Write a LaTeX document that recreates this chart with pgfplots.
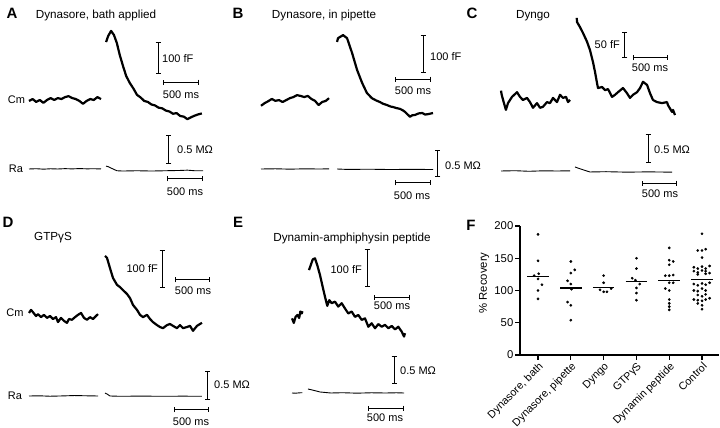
\documentclass[border=0pt]{standalone}
\usepackage{pgfplots}
\pgfplotsset{compat=1.18}
\usetikzlibrary{arrows.meta}
\usepackage{fontspec}
\setmainfont{Liberation Sans}

\newcommand\ttl{\fontsize{11.7}{14}\selectfont}
\newcommand\lbl{\fontsize{11}{13}\selectfont}
\newcommand\pnl{\fontsize{15}{17}\selectfont\bfseries}
\newcommand\tck{\fontsize{11.3}{13}\selectfont}
\newcommand\cat{\fontsize{10.8}{12}\selectfont}

% one axis per trace: time in ms, Cm in fF, Ra in MOhm
\pgfplotsset{
  trace/.style={axis lines=none, clip=false, anchor=origin, enlargelimits=false,
    xmin=-100, xmax=2700},
  cmax/.style={trace, ymin=-100, ymax=250},
  raax/.style={trace, ymin=-0.5, ymax=0.8},
  cm/.style={no marks, black, line width=2.2pt, line join=round},
  ra/.style={no marks, black, line width=0.9pt, line join=round},
}
\tikzset{sbar/.style={line width=1pt, {Bar[width=5pt]}-{Bar[width=5pt]}},
  every node/.append style={inner sep=0pt}}

\begin{document}
\begin{tikzpicture}
\useasboundingbox (0,0) rectangle (720pt,428pt);

%% ---------------- A ----------------
\begin{axis}[cmax, at={(29pt,328pt)}, x=0.072pt, y=0.32pt]
\addplot[cm] coordinates {(0,-3) (50,3) (100,-6) (150,0) (200,-9) (250,0) (300,6) (350,0) (400,6) (450,3) (500,9) (550,12) (600,6) (650,3) (700,-3) (750,-12) (800,-3) (850,3) (900,0) (950,9) (1000,3)};
\addplot[cm] coordinates {(1070,181) (1100,200) (1140,216) (1180,203) (1220,178) (1260,141) (1310,103) (1350,75) (1400,53) (1450,36) (1500,16) (1550,8) (1600,-3) (1650,-6) (1700,-14) (1750,-17) (1800,-24) (1850,-26) (1900,-33) (1950,-36) (2000,-43) (2050,-41) (2100,-50) (2150,-52) (2200,-60) (2250,-54) (2300,-49) (2350,-45) (2400,-42)};
\draw[sbar] (1792,81) -- (1792,181);
\draw[sbar] (1861,56) -- (2361,56);
\end{axis}
\begin{axis}[raax, at={(29pt,259pt)}, x=0.072pt, y=58pt]
\addplot[ra] coordinates {(0,0) (100,0.005) (200,-0.003) (300,0.004) (400,0) (500,0.006) (600,0.002) (700,0.007) (800,0.003) (900,0.004) (1000,0.002)};
\addplot[ra] coordinates {(1070,0.05) (1100,0.04) (1150,0.01) (1220,-0.03) (1300,-0.035) (1500,-0.03) (1700,-0.035) (1900,-0.03) (2100,-0.025) (2200,-0.02) (2300,-0.03) (2420,-0.03)};
\draw[sbar] (1944,0.086) -- (1944,0.586);
\draw[sbar] (1917,-0.172) -- (2417,-0.172);
\end{axis}

%% ---------------- B ----------------
\begin{axis}[cmax, at={(261pt,326pt)}, x=0.072pt, y=0.38pt]
\addplot[cm] coordinates {(0,-10) (50,-3) (100,2) (150,8) (200,3) (250,5) (300,0) (350,5) (400,10) (450,13) (500,18) (550,16) (600,13) (650,16) (700,8) (750,3) (800,-8) (850,0) (900,3) (945,10)};
\addplot[cm] coordinates {(1056,158) (1070,168) (1140,176) (1195,168) (1265,129) (1335,84) (1405,50) (1470,24) (1540,10) (1600,4) (1650,0) (1700,-5) (1750,-8) (1800,-12) (1830,-13) (1880,-16) (1930,-18) (1970,-22) (2000,-26) (2070,-39) (2100,-35) (2140,-34) (2190,-30) (2240,-29) (2280,-33) (2320,-32) (2389,-29)};
\draw[sbar] (2250,76) -- (2250,176);
\draw[sbar] (1861,60) -- (2361,60);
\end{axis}
\begin{axis}[raax, at={(261pt,259pt)}, x=0.072pt, y=54pt]
\addplot[ra] coordinates {(0,0) (200,0.004) (400,-0.003) (600,0.003) (800,0) (945,0.002)};
\addplot[ra] coordinates {(1056,0) (1200,-0.008) (1500,-0.004) (1800,-0.01) (2100,-0.006) (2389,-0.01)};
\draw[sbar] (2458,-0.148) -- (2458,0.352);
\draw[sbar] (1861,-0.259) -- (2361,-0.259);
\end{axis}

%% ---------------- C ----------------
\begin{axis}[cmax, at={(501pt,328pt)}, x=0.070pt, y=0.52pt]
\addplot[cm] coordinates {(0,18) (10,10) (30,0) (70,-19) (100,-6) (157,6) (229,15) (271,6) (314,0) (371,4) (414,-4) (457,-15) (514,-6) (557,-15) (600,-13) (657,-4) (700,-6) (743,4) (800,-4) (843,10) (886,4) (929,6) (957,-4) (986,0)};
\addplot[cm] coordinates {(1082,158) (1086,150) (1129,140) (1171,129) (1229,112) (1271,96) (1314,73) (1343,54) (1371,33) (1386,23) (1443,25) (1486,19) (1529,21) (1586,6) (1629,10) (1671,15) (1743,23) (1800,13) (1843,4) (1886,10) (1943,15) (1986,23) (2029,35) (2086,29) (2129,13) (2171,0) (2229,-4) (2300,-6) (2371,-4) (2386,-10) (2443,-23) (2457,-19) (2486,-29)};
\draw[sbar] (1771,81) -- (1771,131);
\draw[sbar] (1886,81) -- (2386,81);
\end{axis}
\begin{axis}[raax, at={(501pt,257pt)}, x=0.070pt, y=58pt]
\addplot[ra] coordinates {(0,0) (200,0.005) (400,-0.005) (600,0.003) (800,0) (986,0.003)};
\addplot[ra] coordinates {(1057,0.07) (1100,0.05) (1200,0.01) (1271,-0.017) (1500,-0.012) (1800,-0.02) (2100,-0.015) (2443,-0.02)};
\draw[sbar] (2100,0.138) -- (2100,0.638);
\draw[sbar] (2020,-0.207) -- (2520,-0.207);
\end{axis}

%% ---------------- D ----------------
\begin{axis}[cmax, at={(29pt,112pt)}, x=0.070pt, y=0.38pt]
\addplot[cm] coordinates {(0,8) (29,16) (57,10) (100,0) (129,5) (171,-3) (214,3) (257,-5) (300,0) (343,-8) (386,-3) (414,-16) (457,-5) (500,-13) (543,-18) (571,-8) (614,-10) (657,-3) (700,3) (743,8) (786,-5) (829,-10) (871,-3) (914,-8) (957,0) (986,5)};
\addplot[cm] coordinates {(1086,158) (1114,153) (1157,126) (1200,100) (1257,82) (1300,76) (1343,68) (1400,58) (1443,47) (1486,29) (1543,16) (1586,3) (1629,-3) (1686,3) (1729,-8) (1771,-16) (1829,-24) (1871,-29) (1914,-32) (1971,-24) (2014,-21) (2057,-26) (2114,-32) (2157,-24) (2200,-32) (2257,-29) (2300,-26) (2343,-39) (2400,-26) (2443,-21) (2471,-18)};
\draw[sbar] (1900,74) -- (1900,174);
\draw[sbar] (2086,95) -- (2586,95);
\end{axis}
\begin{axis}[raax, at={(29pt,32pt)}, x=0.070pt, y=58pt]
\addplot[ra] coordinates {(0,0) (150,0.003) (300,-0.004) (500,0.002) (650,0.008) (800,0.004) (986,0)};
\addplot[ra] coordinates {(1086,0.05) (1114,0.035) (1157,0.0) (1300,-0.005) (1600,-0.002) (1900,-0.005) (2200,-0.003) (2471,-0.005)};
\draw[sbar] (2557,-0.069) -- (2557,0.431);
\draw[sbar] (2071,-0.241) -- (2571,-0.241);
\end{axis}

%% ---------------- E ----------------
\begin{axis}[cmax, at={(292pt,110pt)}, x=0.072pt, y=0.38pt]
\addplot[cm] coordinates {(0,-1) (25,-13) (50,3) (75,8) (100,0) (115,17) (135,12) (145,18)};
\addplot[cm] coordinates {(236,126) (260,139) (288,154) (319,157) (351,139) (389,113) (426,82) (458,56) (490,32) (518,47) (551,39) (597,43) (643,30) (690,39) (736,25) (782,12) (829,17) (875,3) (921,8) (968,-5) (1014,-1) (1060,-23) (1107,-14) (1153,-27) (1199,-16) (1246,-23) (1292,-18) (1338,-27) (1385,-21) (1431,-30) (1476,-23) (1524,-36) (1556,-49) (1569,-40)};
\draw[sbar] (1042,81) -- (1042,181);
\draw[sbar] (1139,55) -- (1639,55);
\end{axis}
\begin{axis}[raax, at={(292pt,35pt)}, x=0.072pt, y=56pt]
\addplot[ra] coordinates {(0,0) (50,-0.004) (100,0.003) (145,0.005)};
\addplot[ra] coordinates {(222,0.071) (280,0.054) (390,0.018) (540,0.0) (700,0.005) (900,-0.003) (1100,0.004) (1300,0.0) (1450,0.004) (1556,0.0)};
\draw[sbar] (1417,0.161) -- (1417,0.661);
\draw[sbar] (1056,-0.268) -- (1556,-0.268);
\end{axis}

%% ---------------- F ----------------
\begin{axis}[at={(520pt,73pt)}, anchor=south west, x=32.8pt, y=0.645pt,
  xmin=-0.55, xmax=5.52, ymin=0, ymax=200, enlargelimits=false, clip=false,
  axis lines*=left, axis line style={line width=1.6pt},
  tick align=outside, major tick length=5pt,
  every tick/.style={black, line width=1.2pt},
  ytick={0,50,100,150,200}, xtick={0,1,2,3,4,5},
  xticklabels={{Dynasore, bath},{Dynasore, pipette},Dyngo,GTPγS,{Dynamin peptide},Control},
  xticklabel style={rotate=45, anchor=north east, font=\cat, inner sep=1pt},
  yticklabel style={font=\tck, inner sep=1.5pt},
  /pgf/number format/assume math mode=true]
\addplot[only marks, mark=*, mark size=1.15pt, black] coordinates {
 (0,187) (0,146) (0.02,126) (-0.12,123) (0,118) (0.12,109) (0,100) (0,87)
 (1,145) (1.12,132) (1,127) (0.9,115) (1,110) (1.02,102) (0.9,82) (1,77) (1,54)
 (1.89,101) (2,98) (2.1,98) (2.23,103) (2,112) (2,123)
 (3,150) (3,134) (2.87,119) (2.97,116) (3.1,110) (3,104) (3,96) (3,85)
 (4,166) (4,147) (4.12,145) (4,140) (3.88,123) (4,123) (4.12,124) (4,112) (4.12,112) (3.88,103) (4,100) (4,86) (4,80) (4,75) (4,70)
 (5,188) (4.87,162) (5,162) (5.11,164) (5,151) (4.75,136) (4.87,134) (5,137) (5.11,134) (5.23,138) (4.75,130) (4.87,128) (5,131) (5.11,130) (4.87,125) (5.11,126) (5.23,127) (4.75,110) (4.87,108) (5,111) (5.11,109) (5.23,112) (4.75,100) (4.87,99) (5,103) (5.11,100) (4.87,93) (5,91) (5.11,94) (4.75,86) (4.87,85) (5,84) (5.11,86) (5.23,88) (4.87,80) (5,77) (5,71)};
% means
\addplot[black, line width=1.3pt] coordinates {(-0.33,122) (0.33,122)};
\addplot[black, line width=1.3pt] coordinates {(0.67,104) (1.33,104)};
\addplot[black, line width=1.3pt] coordinates {(1.67,105) (2.33,105)};
\addplot[black, line width=1.3pt] coordinates {(2.67,114) (3.33,114)};
\addplot[black, line width=1.3pt] coordinates {(3.67,116) (4.33,116)};
\addplot[black, line width=1.3pt] coordinates {(4.67,117) (5.33,117)};
\end{axis}

%% ---------------- text ----------------
\node[font=\pnl] at (12pt,415pt) {A};
\node[font=\pnl] at (238pt,415pt) {B};
\node[font=\pnl] at (472pt,415pt) {C};
\node[font=\pnl] at (8pt,206pt) {D};
\node[font=\pnl] at (238pt,206pt) {E};
\node[font=\pnl] at (471pt,203pt) {F};

\node[font=\ttl] at (96pt,413pt) {Dynasore, bath applied};
\node[font=\ttl] at (324pt,413pt) {Dynasore, in pipette};
\node[font=\ttl] at (533pt,412pt) {Dyngo};
\node[font=\ttl] at (53pt,190pt) {GTPγS};
\node[font=\ttl] at (352pt,190pt) {Dynamin-amphiphysin peptide};

\node[font=\lbl] at (16.5pt,328pt) {Cm};
\node[font=\lbl] at (16pt,259pt) {Ra};
\node[font=\lbl] at (15pt,115pt) {Cm};
\node[font=\lbl] at (15pt,32pt) {Ra};

% A
\node[font=\lbl, anchor=west] at (162pt,369pt) {100 fF};
\node[font=\lbl] at (181pt,333pt) {500 ms};
\node[font=\lbl, anchor=west] at (177pt,278pt) {0.5 MΩ};
\node[font=\lbl] at (185pt,236pt) {500 ms};
% B
\node[font=\lbl, anchor=west] at (430pt,371pt) {100 fF};
\node[font=\lbl] at (413pt,337pt) {500 ms};
\node[font=\lbl, anchor=west] at (445pt,262pt) {0.5 MΩ};
\node[font=\lbl] at (412pt,232pt) {500 ms};
% C
\node[font=\lbl, anchor=east] at (620pt,383pt) {50 fF};
\node[font=\lbl] at (650pt,360pt) {500 ms};
\node[font=\lbl, anchor=west] at (654pt,278pt) {0.5 MΩ};
\node[font=\lbl] at (660pt,234pt) {500 ms};
% D
\node[font=\lbl, anchor=east] at (158pt,159pt) {100 fF};
\node[font=\lbl] at (193pt,137pt) {500 ms};
\node[font=\lbl, anchor=west] at (214pt,43pt) {0.5 MΩ};
\node[font=\lbl] at (191pt,6pt) {500 ms};
% E
\node[font=\lbl, anchor=east] at (362pt,158pt) {100 fF};
\node[font=\lbl] at (392pt,122pt) {500 ms};
\node[font=\lbl, anchor=west] at (400pt,57pt) {0.5 MΩ};
\node[font=\lbl] at (385pt,10pt) {500 ms};
% F
\node[font=\tck, rotate=90] at (484pt,145pt) {\% Recovery};
\end{tikzpicture}
\end{document}
